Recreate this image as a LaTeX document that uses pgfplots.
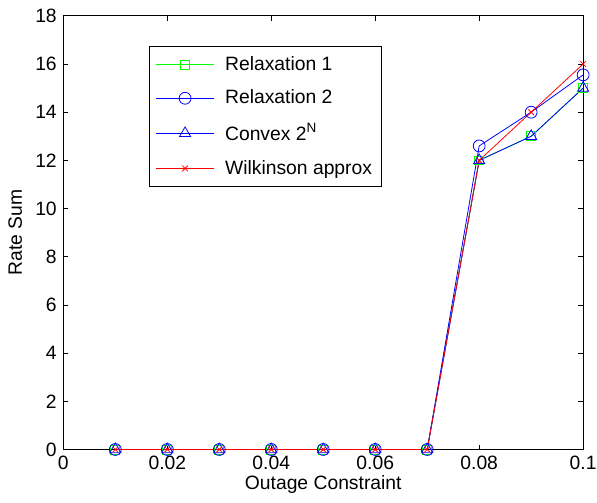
\documentclass[border=0pt]{standalone}
\usepackage{fontspec}
\setmainfont{Liberation Sans}
\usepackage{pgfplots}
\pgfplotsset{compat=1.18}

\begin{document}
\fontsize{19.5}{23}\selectfont
\begin{tikzpicture}
\begin{axis}[
  name=main,
  scale only axis,
  width=525pt, height=438pt,
  xmin=0, xmax=0.1, ymin=0, ymax=18,
  xtick={0,0.02,0.04,0.06,0.08,0.1},
  xticklabels={0,0.02,0.04,0.06,0.08,0.1},
  ytick={0,2,...,18},
  tick align=inside,
  xtick pos=both, ytick pos=both,
  xticklabel pos=left, yticklabel pos=left,
  major tick length=5pt,
  tick style={black, line width=0.7pt},
  axis line style={line width=0.9pt},
  /pgf/number format/assume math mode=true,
  tick label style={font=\fontsize{19.5}{23}\selectfont},
  label style={font=\fontsize{19.5}{23}\selectfont},
  xlabel={Outage Constraint},
  ylabel={Rate Sum},
  xlabel style={yshift=7pt},
  ylabel style={yshift=0pt},
  legend cell align=left,
  legend style={at={(0.164,0.931)}, anchor=north west,
    draw=black, line width=0.9pt, inner xsep=7pt, inner ysep=8pt,
    row sep=13pt, font=\fontsize{19.5}{23}\selectfont,
    /tikz/every odd column/.append style={column sep=9pt}},
  legend image code/.code={
    \draw[mark repeat=2, mark phase=2]
      plot coordinates {(0pt,0pt) (29pt,0pt) (58pt,0pt)};},
]
\addplot[color={rgb,255:red,0;green,255;blue,0}, line width=0.8pt,
  mark=square, mark size=4.5pt, mark options={solid}]
  coordinates {(0.01,0)(0.02,0)(0.03,0)(0.04,0)(0.05,0)(0.06,0)(0.07,0)(0.08,12)(0.09,13)(0.1,15)};
\addplot[color=blue, line width=0.8pt,
  mark=o, mark size=6pt, mark options={solid}]
  coordinates {(0.01,0)(0.02,0)(0.03,0)(0.04,0)(0.05,0)(0.06,0)(0.07,0)(0.08,12.6)(0.09,14)(0.1,15.55)};
\addplot[color=blue, line width=0.8pt,
  mark=triangle, mark size=6.5pt, mark options={solid}]
  coordinates {(0.01,0)(0.02,0)(0.03,0)(0.04,0)(0.05,0)(0.06,0)(0.07,0)(0.08,12)(0.09,13)(0.1,15)};
\addplot[color=red, line width=0.8pt,
  mark=x, mark size=4pt, mark options={solid}]
  coordinates {(0.01,0)(0.02,0)(0.03,0)(0.04,0)(0.05,0)(0.06,0)(0.07,0)(0.08,12)(0.09,14)(0.1,16)};
\legend{Relaxation 1, Relaxation 2, Convex 2\textsuperscript{N}, Wilkinson approx}
\end{axis}
\pgfresetboundingbox
\path ([xshift=-64pt,yshift=-54pt]main.south west)
  rectangle ([xshift=14pt,yshift=16pt]main.north east);
\end{tikzpicture}
\end{document}
